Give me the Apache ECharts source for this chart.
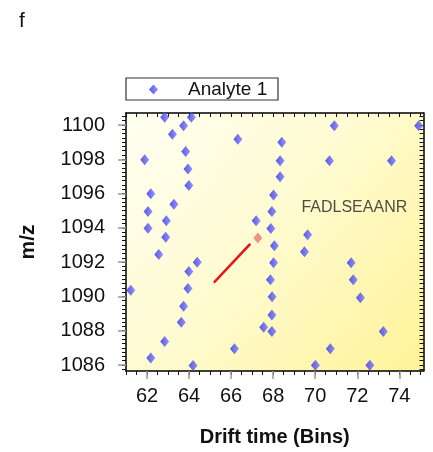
<!DOCTYPE html>
<html>
<head>
<meta charset="utf-8">
<script src="https://cdn.jsdelivr.net/npm/echarts@6/dist/echarts.min.js"></script>
<style>html,body{margin:0;padding:0;background:#fff}#c{width:433px;height:452px}</style>
</head>
<body>
<div id="c"></div>
<script>
// Analyte 1 points: [drift time (bins), m/z]
var driftTimes = [62.84,64.11,63.74,63.21,66.32,61.89,63.84,63.95,63.99,62.18,63.28,62.05,62.92,62.05,62.89,67.19,68.41,68.33,68.33,68.02,67.94,67.89,70.91,74.92,70.68,73.63,69.64,68.06,69.49,62.56,64.39,63.99,68.02,71.71,61.23,63.95,67.87,71.81,63.74,67.95,72.15,63.63,67.94,67.55,67.94,73.24,62.84,66.16,70.72,62.18,64.19,70.01,72.60];
var mzValues = [1100.45,1100.45,1099.96,1099.46,1099.17,1097.98,1098.46,1097.44,1096.47,1095.99,1095.37,1094.95,1094.41,1093.98,1093.45,1094.41,1099.0,1097.92,1096.98,1095.91,1094.95,1093.96,1099.96,1099.96,1097.92,1097.92,1093.6,1092.96,1092.61,1092.44,1092.0,1091.46,1091.96,1091.96,1090.36,1090.46,1090.98,1090.98,1089.43,1089.98,1089.92,1088.49,1088.91,1088.2,1087.95,1087.95,1087.37,1086.95,1086.95,1086.41,1085.97,1085.99,1085.99];
var trendX = [65.18, 66.91];
var trendY = [1090.8, 1093.06];
var highlightPoint = [67.27, 1093.41];
var peptideLabel = 'FADLSEAANR';
var peptidePos = [71.86, 1095.2];
var xTickLabels = [62, 64, 66, 68, 70, 72, 74];
var yTickLabels = [1086, 1088, 1090, 1092, 1094, 1096, 1098, 1100];

var X_MIN = 61, X_MAX = 75.15, Y_MIN = 1085.65, Y_MAX = 1100.7;
var xMinor = [], yMinor = [];
for (var v = 61; v <= 75.001; v += 0.5) xMinor.push(+v.toFixed(2));
for (var w = 1085.75; w <= 1100.5001; w += 0.25) yMinor.push(+w.toFixed(2));

var scatterData = driftTimes.map(function (d, i) { return [d, mzValues[i]]; });
var lineData = trendX.map(function (d, i) { return [d, trendY[i]]; });

var font = 'Liberation Sans, Arial, sans-serif';
var chart = echarts.init(document.getElementById('c'));

function frameX(pos) {
  return {
    type: 'value', min: X_MIN, max: X_MAX, position: pos,
    axisLine: { show: true, onZero: false, lineStyle: { color: '#000', width: 1.5 } },
    axisTick: { show: true, inside: pos === 'top', length: 4, customValues: xMinor, lineStyle: { color: '#111', width: 1 } },
    axisLabel: { show: false },
    splitLine: { show: false }
  };
}
function frameY(pos) {
  return {
    type: 'value', min: Y_MIN, max: Y_MAX, position: pos,
    axisLine: { show: true, onZero: false, lineStyle: { color: '#000', width: 1.5 } },
    axisTick: { show: true, inside: pos === 'right', length: 4, customValues: yMinor, lineStyle: { color: '#111', width: 1 } },
    axisLabel: { show: false },
    splitLine: { show: false }
  };
}

var xBottom = frameX('bottom');
xBottom.axisLabel = { show: true, customValues: xTickLabels, margin: 15, color: '#111', fontSize: 20, fontFamily: font,
  formatter: function (v) { return String(v); } };
xBottom.name = 'Drift time (Bins)';
xBottom.nameLocation = 'middle';
xBottom.nameGap = 56;
xBottom.nameTextStyle = { color: '#111', fontSize: 20, fontWeight: 'bold', fontFamily: font };

var yLeft = frameY('left');
yLeft.axisLabel = { show: true, customValues: yTickLabels, margin: 21, color: '#111', fontSize: 20, fontFamily: font,
  formatter: function (v) { return String(v); } };
yLeft.name = 'm/z';
yLeft.nameLocation = 'middle';
yLeft.nameGap = 87;
yLeft.nameTextStyle = { color: '#111', fontSize: 21, fontWeight: 'bold', fontFamily: font };

var xMajor = {
  type: 'value', min: X_MIN, max: X_MAX, position: 'bottom',
  axisLine: { show: false }, axisLabel: { show: false }, splitLine: { show: false },
  axisTick: { show: true, length: 8, customValues: xTickLabels, lineStyle: { color: '#999', width: 1.5 } }
};
var yMajor = {
  type: 'value', min: Y_MIN, max: Y_MAX, position: 'left',
  axisLine: { show: false }, axisLabel: { show: false }, splitLine: { show: false },
  axisTick: { show: true, length: 8, customValues: yTickLabels, lineStyle: { color: '#999', width: 1.5 } }
};

chart.setOption({
  animation: false,
  backgroundColor: '#fff',
  grid: {
    left: 126, right: 9.5, top: 113, bottom: 79, show: true, borderWidth: 0,
    backgroundColor: new echarts.graphic.LinearGradient(0, 0, 1, 1, [
      { offset: 0, color: '#fffff2' },
      { offset: 0.45, color: '#fffbd2' },
      { offset: 1, color: '#fff398' }
    ])
  },
  legend: {
    show: true, left: 149, top: 80, itemWidth: 9, itemHeight: 10, padding: 0,
    data: [{ name: 'Analyte 1', icon: 'diamond' }],
    formatter: function (n) { return '{pad|}{t|' + n + '}'; },
    textStyle: {
      color: '#111', fontSize: 19, fontFamily: font,
      rich: { pad: { width: 25 }, t: { fontSize: 19, fontFamily: font, color: '#111' } }
    }
  },
  xAxis: [xBottom, frameX('top'), xMajor],
  yAxis: [yLeft, frameY('right'), yMajor],
  graphic: [
    { type: 'text', left: 19, top: 11, style: { text: 'f', fontSize: 21, fontFamily: font, fill: '#111' } },
    { type: 'rect', shape: { x: 126, y: 78, width: 152, height: 22 }, style: { fill: 'none', stroke: '#333', lineWidth: 1.2 } }
  ],
  series: [
    {
      name: 'Analyte 1', type: 'scatter', symbol: 'diamond', symbolSize: [9, 11],
      xAxisIndex: 0, yAxisIndex: 0,
      itemStyle: {
        color: new echarts.graphic.LinearGradient(0, 0, 1, 0, [
          { offset: 0, color: '#2e2ee6' }, { offset: 1, color: '#7a7aff' }
        ])
      },
      data: scatterData, z: 3
    },
    {
      name: 'trend', type: 'line', xAxisIndex: 0, yAxisIndex: 0, symbol: 'none',
      lineStyle: { color: '#e8141c', width: 2.5 }, data: lineData, z: 4
    },
    {
      name: 'highlight', type: 'scatter', symbol: 'diamond', symbolSize: [9, 11],
      xAxisIndex: 0, yAxisIndex: 0,
      itemStyle: { color: '#f07878' }, data: [highlightPoint], z: 4
    },
    {
      name: 'label', type: 'scatter', xAxisIndex: 0, yAxisIndex: 0, symbolSize: 0,
      data: [peptidePos], silent: true,
      label: { show: true, position: 'inside', formatter: peptideLabel, color: '#222', fontSize: 16, fontFamily: font }
    }
  ]
});
</script>
</body>
</html>
